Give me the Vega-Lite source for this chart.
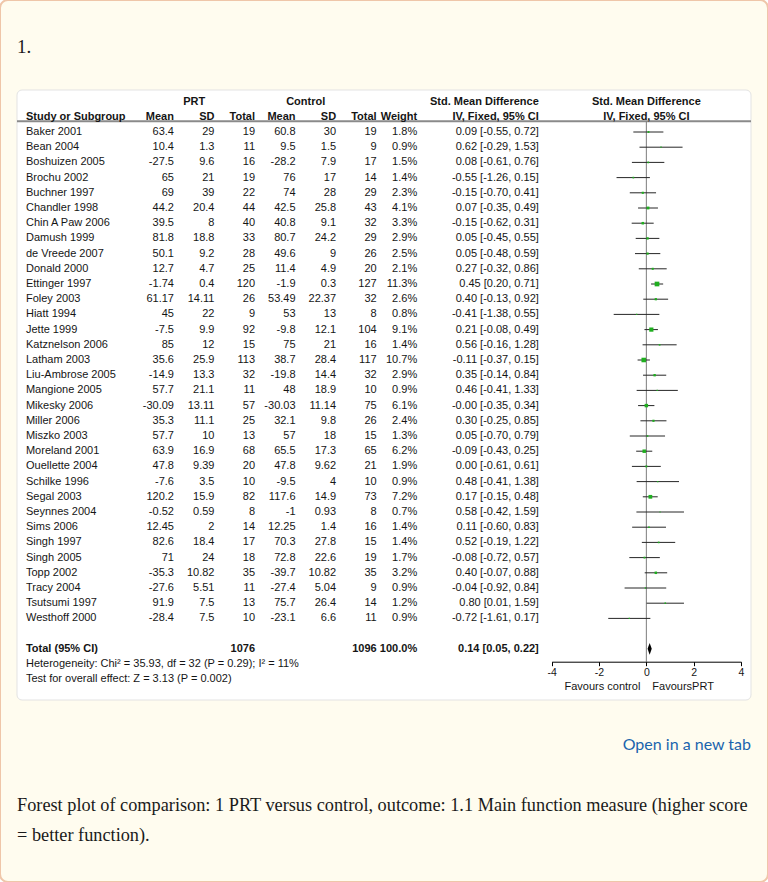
{
"$schema":"https://vega.github.io/schema/vega-lite/v6.json",
"width":768,"height":882,
"autosize":{"type":"fit","contains":"padding"},
"padding":0,
"background":"#ffffff",
"view":{"fill":"#fffcef","stroke":"#efc6a9","strokeWidth":2,"cornerRadius":8},
"config":{"text":{"font":"Liberation Sans","fontSize":11,"color":"#151515","baseline":"middle"}},
"datasets":{
"studies":[
{"row":"Baker 2001","m1":63.4,"sd1":29,"n1":19,"m2":60.8,"sd2":30,"n2":19,"wt":0.018,"ci":"0.09 [-0.55, 0.72]","smd":0.09,"lo":-0.55,"hi":0.72},
{"row":"Bean 2004","m1":10.4,"sd1":1.3,"n1":11,"m2":9.5,"sd2":1.5,"n2":9,"wt":0.009,"ci":"0.62 [-0.29, 1.53]","smd":0.62,"lo":-0.29,"hi":1.53},
{"row":"Boshuizen 2005","m1":-27.5,"sd1":9.6,"n1":16,"m2":-28.2,"sd2":7.9,"n2":17,"wt":0.015,"ci":"0.08 [-0.61, 0.76]","smd":0.08,"lo":-0.61,"hi":0.76},
{"row":"Brochu 2002","m1":65,"sd1":21,"n1":19,"m2":76,"sd2":17,"n2":14,"wt":0.014,"ci":"-0.55 [-1.26, 0.15]","smd":-0.55,"lo":-1.26,"hi":0.15},
{"row":"Buchner 1997","m1":69,"sd1":39,"n1":22,"m2":74,"sd2":28,"n2":29,"wt":0.023,"ci":"-0.15 [-0.70, 0.41]","smd":-0.15,"lo":-0.70,"hi":0.41},
{"row":"Chandler 1998","m1":44.2,"sd1":20.4,"n1":44,"m2":42.5,"sd2":25.8,"n2":43,"wt":0.041,"ci":"0.07 [-0.35, 0.49]","smd":0.07,"lo":-0.35,"hi":0.49},
{"row":"Chin A Paw 2006","m1":39.5,"sd1":8,"n1":40,"m2":40.8,"sd2":9.1,"n2":32,"wt":0.033,"ci":"-0.15 [-0.62, 0.31]","smd":-0.15,"lo":-0.62,"hi":0.31},
{"row":"Damush 1999","m1":81.8,"sd1":18.8,"n1":33,"m2":80.7,"sd2":24.2,"n2":29,"wt":0.029,"ci":"0.05 [-0.45, 0.55]","smd":0.05,"lo":-0.45,"hi":0.55},
{"row":"de Vreede 2007","m1":50.1,"sd1":9.2,"n1":28,"m2":49.6,"sd2":9,"n2":26,"wt":0.025,"ci":"0.05 [-0.48, 0.59]","smd":0.05,"lo":-0.48,"hi":0.59},
{"row":"Donald 2000","m1":12.7,"sd1":4.7,"n1":25,"m2":11.4,"sd2":4.9,"n2":20,"wt":0.021,"ci":"0.27 [-0.32, 0.86]","smd":0.27,"lo":-0.32,"hi":0.86},
{"row":"Ettinger 1997","m1":-1.74,"sd1":0.4,"n1":120,"m2":-1.9,"sd2":0.3,"n2":127,"wt":0.113,"ci":"0.45 [0.20, 0.71]","smd":0.45,"lo":0.20,"hi":0.71},
{"row":"Foley 2003","m1":61.17,"sd1":14.11,"n1":26,"m2":53.49,"sd2":22.37,"n2":32,"wt":0.026,"ci":"0.40 [-0.13, 0.92]","smd":0.40,"lo":-0.13,"hi":0.92},
{"row":"Hiatt 1994","m1":45,"sd1":22,"n1":9,"m2":53,"sd2":13,"n2":8,"wt":0.008,"ci":"-0.41 [-1.38, 0.55]","smd":-0.41,"lo":-1.38,"hi":0.55},
{"row":"Jette 1999","m1":-7.5,"sd1":9.9,"n1":92,"m2":-9.8,"sd2":12.1,"n2":104,"wt":0.091,"ci":"0.21 [-0.08, 0.49]","smd":0.21,"lo":-0.08,"hi":0.49},
{"row":"Katznelson 2006","m1":85,"sd1":12,"n1":15,"m2":75,"sd2":21,"n2":16,"wt":0.014,"ci":"0.56 [-0.16, 1.28]","smd":0.56,"lo":-0.16,"hi":1.28},
{"row":"Latham 2003","m1":35.6,"sd1":25.9,"n1":113,"m2":38.7,"sd2":28.4,"n2":117,"wt":0.107,"ci":"-0.11 [-0.37, 0.15]","smd":-0.11,"lo":-0.37,"hi":0.15},
{"row":"Liu-Ambrose 2005","m1":-14.9,"sd1":13.3,"n1":32,"m2":-19.8,"sd2":14.4,"n2":32,"wt":0.029,"ci":"0.35 [-0.14, 0.84]","smd":0.35,"lo":-0.14,"hi":0.84},
{"row":"Mangione 2005","m1":57.7,"sd1":21.1,"n1":11,"m2":48,"sd2":18.9,"n2":10,"wt":0.009,"ci":"0.46 [-0.41, 1.33]","smd":0.46,"lo":-0.41,"hi":1.33},
{"row":"Mikesky 2006","m1":-30.09,"sd1":13.11,"n1":57,"m2":-30.03,"sd2":11.14,"n2":75,"wt":0.061,"ci":"-0.00 [-0.35, 0.34]","smd":0,"lo":-0.35,"hi":0.34},
{"row":"Miller 2006","m1":35.3,"sd1":11.1,"n1":25,"m2":32.1,"sd2":9.8,"n2":26,"wt":0.024,"ci":"0.30 [-0.25, 0.85]","smd":0.30,"lo":-0.25,"hi":0.85},
{"row":"Miszko 2003","m1":57.7,"sd1":10,"n1":13,"m2":57,"sd2":18,"n2":15,"wt":0.013,"ci":"0.05 [-0.70, 0.79]","smd":0.05,"lo":-0.70,"hi":0.79},
{"row":"Moreland 2001","m1":63.9,"sd1":16.9,"n1":68,"m2":65.5,"sd2":17.3,"n2":65,"wt":0.062,"ci":"-0.09 [-0.43, 0.25]","smd":-0.09,"lo":-0.43,"hi":0.25},
{"row":"Ouellette 2004","m1":47.8,"sd1":9.39,"n1":20,"m2":47.8,"sd2":9.62,"n2":21,"wt":0.019,"ci":"0.00 [-0.61, 0.61]","smd":0.00,"lo":-0.61,"hi":0.61},
{"row":"Schilke 1996","m1":-7.6,"sd1":3.5,"n1":10,"m2":-9.5,"sd2":4,"n2":10,"wt":0.009,"ci":"0.48 [-0.41, 1.38]","smd":0.48,"lo":-0.41,"hi":1.38},
{"row":"Segal 2003","m1":120.2,"sd1":15.9,"n1":82,"m2":117.6,"sd2":14.9,"n2":73,"wt":0.072,"ci":"0.17 [-0.15, 0.48]","smd":0.17,"lo":-0.15,"hi":0.48},
{"row":"Seynnes 2004","m1":-0.52,"sd1":0.59,"n1":8,"m2":-1,"sd2":0.93,"n2":8,"wt":0.007,"ci":"0.58 [-0.42, 1.59]","smd":0.58,"lo":-0.42,"hi":1.59},
{"row":"Sims 2006","m1":12.45,"sd1":2,"n1":14,"m2":12.25,"sd2":1.4,"n2":16,"wt":0.014,"ci":"0.11 [-0.60, 0.83]","smd":0.11,"lo":-0.60,"hi":0.83},
{"row":"Singh 1997","m1":82.6,"sd1":18.4,"n1":17,"m2":70.3,"sd2":27.8,"n2":15,"wt":0.014,"ci":"0.52 [-0.19, 1.22]","smd":0.52,"lo":-0.19,"hi":1.22},
{"row":"Singh 2005","m1":71,"sd1":24,"n1":18,"m2":72.8,"sd2":22.6,"n2":19,"wt":0.017,"ci":"-0.08 [-0.72, 0.57]","smd":-0.08,"lo":-0.72,"hi":0.57},
{"row":"Topp 2002","m1":-35.3,"sd1":10.82,"n1":35,"m2":-39.7,"sd2":10.82,"n2":35,"wt":0.032,"ci":"0.40 [-0.07, 0.88]","smd":0.40,"lo":-0.07,"hi":0.88},
{"row":"Tracy 2004","m1":-27.6,"sd1":5.51,"n1":11,"m2":-27.4,"sd2":5.04,"n2":9,"wt":0.009,"ci":"-0.04 [-0.92, 0.84]","smd":-0.04,"lo":-0.92,"hi":0.84},
{"row":"Tsutsumi 1997","m1":91.9,"sd1":7.5,"n1":13,"m2":75.7,"sd2":26.4,"n2":14,"wt":0.012,"ci":"0.80 [0.01, 1.59]","smd":0.80,"lo":0.01,"hi":1.59},
{"row":"Westhoff 2000","m1":-28.4,"sd1":7.5,"n1":10,"m2":-23.1,"sd2":6.6,"n2":11,"wt":0.009,"ci":"-0.72 [-1.61, 0.17]","smd":-0.72,"lo":-1.61,"hi":0.17}
],
"pooled":[{"row":"Total (95% CI)","n1":1076,"n2":1096,"wt":1,"ci":"0.14 [0.05, 0.22]","smd":0.14,"lo":0.05,"hi":0.22}],
"noeffect":[{"smd":0}],
"notes":[
{"row":"het","text":"Heterogeneity: Chi² = 35.93, df = 32 (P = 0.29); I² = 11%"},
{"row":"test","text":"Test for overall effect: Z = 3.13 (P = 0.002)"}
],
"hdr":[
{"row":"h1","col":"b1","text":"PRT"},
{"row":"h1","col":"b4","text":"Control"},
{"row":"h1","col":"ci","text":"Std. Mean Difference"},
{"row":"h2","col":"s","text":"Study or Subgroup"},
{"row":"h2","col":"m1","text":"Mean"},
{"row":"h2","col":"sd1","text":"SD"},
{"row":"h2","col":"n1","text":"Total"},
{"row":"h2","col":"m2","text":"Mean"},
{"row":"h2","col":"sd2","text":"SD"},
{"row":"h2","col":"n2","text":"Total"},
{"row":"h2","col":"w","text":"Weight"},
{"row":"h2","col":"ci","text":"IV, Fixed, 95% CI"}
],
"page":[
{"row":"title","text":"1."},
{"row":"link","text":"Open in a new tab"},
{"row":"cap1","text":"Forest plot of comparison: 1 PRT versus control, outcome: 1.1 Main function measure (higher score"},
{"row":"cap2","text":"= better function)."}
]
},
"encoding":{"y":{"field":"row","type":"nominal","axis":null,"scale":{"type":"band","domain":["title","g1","g2","g3","h1","h2","Baker 2001","Bean 2004","Boshuizen 2005","Brochu 2002","Buchner 1997","Chandler 1998","Chin A Paw 2006","Damush 1999","de Vreede 2007","Donald 2000","Ettinger 1997","Foley 2003","Hiatt 1994","Jette 1999","Katznelson 2006","Latham 2003","Liu-Ambrose 2005","Mangione 2005","Mikesky 2006","Miller 2006","Miszko 2003","Moreland 2001","Ouellette 2004","Schilke 1996","Segal 2003","Seynnes 2004","Sims 2006","Singh 1997","Singh 2005","Topp 2002","Tracy 2004","Tsutsumi 1997","Westhoff 2000","g4","Total (95% CI)","het","test","g5","g6","g7","link","g8","g9","g10","cap1","g11","cap2"],"range":[33.2,838.8],"paddingInner":0,"paddingOuter":0}}},
"layer":[
{
"encoding":{"x":{"datum":"left","type":"nominal","axis":null,"scale":{"type":"point","domain":["left","right"],"range":[17,751],"padding":0}}},
"layer":[
{"data":{"values":[{}]},"mark":{"type":"rect","fill":"#ffffff","stroke":"#e3e3e3","strokeWidth":1,"cornerRadius":5},
"encoding":{"x":{"datum":"left","type":"nominal"},"x2":{"datum":"right"},"y":{"datum":"g3","type":"nominal","bandPosition":0.737},"y2":{"datum":"g5","bandPosition":0.868}}},
{"data":{"values":[{}]},"mark":{"type":"rule","stroke":"#8a8a8a","strokeWidth":2},
"encoding":{"x":{"datum":"left","type":"nominal"},"x2":{"datum":"right"},"y":{"datum":"h2","type":"nominal","bandPosition":0.8}}},
{"data":{"name":"page"},"transform":[{"filter":"datum.row == 'title'"}],"mark":{"type":"text","align":"left","font":"Liberation Serif","fontSize":19,"color":"#1a1a1a"},
"encoding":{"x":{"datum":"left","type":"nominal"},"y":{"field":"row","type":"nominal","bandPosition":0.875},"text":{"field":"text"}}},
{"data":{"name":"page"},"transform":[{"filter":"datum.row == 'link'"}],"mark":{"type":"text","align":"right","font":"Lato","fontSize":16,"color":"#1a64ad"},
"encoding":{"x":{"datum":"right","type":"nominal"},"y":{"field":"row","type":"nominal","bandPosition":0.83},"text":{"field":"text"}}},
{"data":{"name":"page"},"transform":[{"filter":"datum.row == 'cap1' || datum.row == 'cap2'"}],"mark":{"type":"text","align":"left","font":"Liberation Serif","fontSize":18.3,"color":"#1a1a1a"},
"encoding":{"x":{"datum":"left","type":"nominal"},"y":{"field":"row","type":"nominal","bandPosition":0.83},"text":{"field":"text"}}}
]
},
{
"encoding":{"x":{"field":"col","type":"nominal","axis":null,"bandPosition":1,"scale":{"type":"band","domain":["s","a1","a2","a3","a4","a5","a6","m1","b1","sd1","b2","n1","b3","m2","b4","sd2","b5","n2","b6","w","c1","c2","c3","c4","c5","ci"],"range":[11.77,538.8],"paddingInner":0,"paddingOuter":0}}},
"layer":[
{"data":{"name":"studies"},"mark":{"type":"text","align":"left"},
"encoding":{"x":{"datum":"s","type":"nominal","bandPosition":0.7},"text":{"field":"row"}}},
{"data":{"name":"studies"},"transform":[{"fold":["m1","sd1","n1","m2","sd2","n2","ci"],"as":["col","val"]}],"mark":{"type":"text","align":"right"},
"encoding":{"text":{"field":"val","type":"nominal"}}},
{"data":{"name":"studies"},"mark":{"type":"text","align":"right"},
"encoding":{"x":{"datum":"w","type":"nominal","bandPosition":1},"text":{"field":"wt","type":"quantitative","format":".1%"}}},
{"data":{"name":"pooled"},"mark":{"type":"text","align":"left","fontWeight":"bold"},
"encoding":{"x":{"datum":"s","type":"nominal","bandPosition":0.7},"text":{"field":"row"}}},
{"data":{"name":"pooled"},"transform":[{"fold":["n1","n2","ci"],"as":["col","val"]}],"mark":{"type":"text","align":"right","fontWeight":"bold"},
"encoding":{"text":{"field":"val","type":"nominal"}}},
{"data":{"name":"pooled"},"mark":{"type":"text","align":"right","fontWeight":"bold"},
"encoding":{"x":{"datum":"w","type":"nominal","bandPosition":1},"text":{"field":"wt","type":"quantitative","format":".1%"}}},
{"data":{"name":"notes"},"mark":{"type":"text","align":"left"},
"encoding":{"x":{"datum":"s","type":"nominal","bandPosition":0.7},"text":{"field":"text"}}},
{"data":{"name":"hdr"},"transform":[{"filter":"datum.col == 's'"}],"mark":{"type":"text","align":"left","fontWeight":"bold"},
"encoding":{"x":{"datum":"s","type":"nominal","bandPosition":0.7},"text":{"field":"text"}}},
{"data":{"name":"hdr"},"transform":[{"filter":"indexof(['m1','sd1','n1','m2','sd2','n2','w','ci'], datum.col) >= 0"}],"mark":{"type":"text","align":"right","fontWeight":"bold"},
"encoding":{"text":{"field":"text"}}},
{"data":{"name":"hdr"},"transform":[{"filter":"datum.col == 'b1'"}],"mark":{"type":"text","align":"center","fontWeight":"bold"},
"encoding":{"x":{"field":"col","type":"nominal","bandPosition":1},"text":{"field":"text"}}},
{"data":{"name":"hdr"},"transform":[{"filter":"datum.col == 'b4'"}],"mark":{"type":"text","align":"center","fontWeight":"bold"},
"encoding":{"x":{"field":"col","type":"nominal","bandPosition":0.5},"text":{"field":"text"}}}
]
},
{
"encoding":{"x":{"field":"smd","type":"quantitative","scale":{"domain":[-4,4],"range":[551.7,741],"nice":false,"zero":false},
"axis":{"values":[-4,-2,0,2,4],"orient":"bottom","offset":-220.3,"zindex":2,"domain":true,"domainColor":"#000000","domainWidth":1,"ticks":true,"tickSize":4,"tickColor":"#000000","tickWidth":1,"labelExpr":"'' + datum.value","labelFont":"Liberation Sans","labelFontSize":10.5,"labelColor":"#151515","labelPadding":2,"labelFlush":false,"labelOverlap":false,"grid":false,"title":null}}},
"layer":[
{"data":{"name":"noeffect"},"mark":{"type":"rule","stroke":"#7d7d7d","strokeWidth":1},
"encoding":{"y":{"datum":"h2","type":"nominal","bandPosition":0.8},"y2":{"datum":"het","bandPosition":0.35}}},
{"data":{"name":"studies"},"mark":{"type":"rule","stroke":"#262626","strokeWidth":1},
"encoding":{"x":{"field":"lo","type":"quantitative","axis":{"values":[-4,-2,0,2,4],"orient":"bottom","offset":-220.3,"zindex":2,"domain":true,"domainColor":"#000000","domainWidth":1,"ticks":true,"tickSize":4,"tickColor":"#000000","tickWidth":1,"labelExpr":"'' + datum.value","labelFont":"Liberation Sans","labelFontSize":10.5,"labelColor":"#151515","labelPadding":2,"labelFlush":false,"labelOverlap":false,"grid":false,"title":null}},"x2":{"field":"hi"}}},
{"data":{"name":"studies"},"mark":{"type":"square","color":"#1fae1f","opacity":1},
"encoding":{"size":{"field":"wt","type":"quantitative","scale":{"domain":[0,0.113],"range":[0,22]},"legend":null}}},
{"data":{"name":"pooled"},"mark":{"type":"point","shape":"M0,-1L0.35,0L0,1L-0.35,0Z","size":140,"filled":true,"color":"#000000","opacity":1}},
{"data":{"name":"noeffect"},"mark":{"type":"text","align":"center","fontWeight":"bold","text":"Std. Mean Difference"},
"encoding":{"y":{"datum":"h1","type":"nominal"}}},
{"data":{"name":"noeffect"},"mark":{"type":"text","align":"center","fontWeight":"bold","text":"IV, Fixed, 95% CI"},
"encoding":{"y":{"datum":"h2","type":"nominal"}}},
{"data":{"name":"noeffect"},"mark":{"type":"text","align":"right","dx":-6,"text":"Favours control"},
"encoding":{"y":{"datum":"g5","type":"nominal","bandPosition":0}}},
{"data":{"name":"noeffect"},"mark":{"type":"text","align":"left","dx":6,"text":"FavoursPRT"},
"encoding":{"y":{"datum":"g5","type":"nominal","bandPosition":0}}}
]
}
],
"resolve":{"scale":{"x":"independent"}}
}
